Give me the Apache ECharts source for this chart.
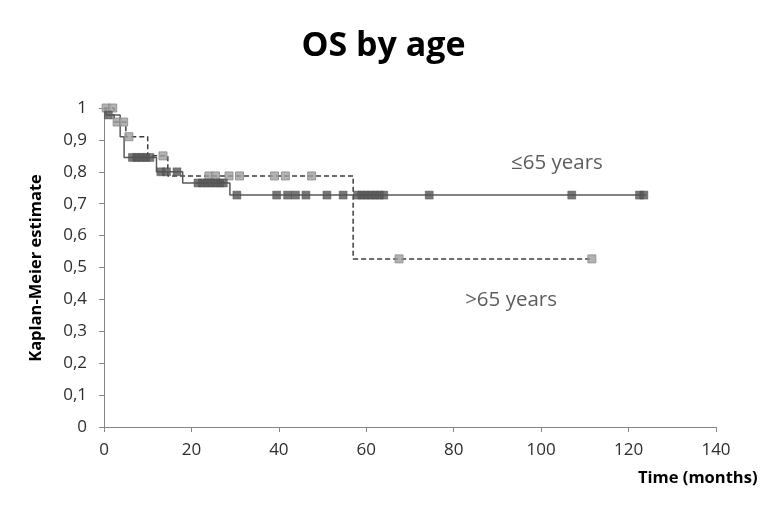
<!DOCTYPE html>
<html><head><meta charset="utf-8">
<script src="https://cdn.jsdelivr.net/npm/echarts@6/dist/echarts.min.js"></script>
<style>html,body{margin:0;padding:0;background:#fff}#c{width:767px;height:506px}</style>
</head><body><div id="c"></div>
<script>
// KM step points: [time, survival after the step]
const youngCurve = [[0,1],[0.5,0.978],[3.7,0.91],[4.6,0.845],[12,0.80],[18,0.765],[28.8,0.727],[124,0.727]];
const oldCurve = [[0,1],[2.3,0.956],[5,0.91],[10,0.85],[14.6,0.787],[57,0.527],[111.6,0.527]];
// censored observations
const youngCensor = [[1,0.978],[6.5,0.845],[7.5,0.845],[8.5,0.845],[9.5,0.845],[10.5,0.845],
  [13,0.80],[14.3,0.80],[16.7,0.80],
  [21.5,0.765],[22.5,0.765],[23.5,0.765],[24.5,0.765],[25.5,0.765],[26.5,0.765],[27.3,0.765],
  [30.4,0.727],[39.5,0.727],[42,0.727],[43.8,0.727],[46.2,0.727],[51,0.727],[54.7,0.727],
  [58,0.727],[59,0.727],[60,0.727],[61,0.727],[62,0.727],[63,0.727],[64,0.727],
  [74.4,0.727],[107,0.727],[122.5,0.727],[123.5,0.727]];
const oldCensor = [[0.5,1],[2,1],[3,0.956],[4.5,0.956],[5.7,0.91],[13.5,0.85],
  [24,0.787],[25.5,0.787],[28.6,0.787],[31,0.787],[39,0.787],[41.5,0.787],[47.5,0.787],
  [67.5,0.527],[111.6,0.527]];
const xTicks = [0,20,40,60,80,100,120,140];
const yTicks = [0,0.1,0.2,0.3,0.4,0.5,0.6,0.7,0.8,0.9,1];
const labels = {young:'≤65 years', old:'>65 years'};
const labelPos = {young:[93,0.827], old:[82.5,0.397]};

const chart = echarts.init(document.getElementById('c'), null, {renderer:'canvas'});
const font = 'Open Sans, Noto Sans, sans-serif';
chart.setOption({
  animation:false,
  title:{text:'OS by age', left:'center', top:24,
    textStyle:{fontFamily:font, fontWeight:'bold', fontSize:34, color:'#000'}},
  grid:{left:104, right:51, top:108, bottom:79},
  xAxis:{type:'value', min:xTicks[0], max:xTicks[xTicks.length-1], interval:20,
    axisLine:{show:true, lineStyle:{color:'#868686', width:1}},
    axisTick:{show:true, length:5, lineStyle:{color:'#868686'}},
    axisLabel:{fontFamily:font, fontSize:17, color:'#2e2e2e', margin:15},
    splitLine:{show:false}},
  yAxis:{type:'value', min:0, max:1, interval:0.1,
    axisLine:{show:true, lineStyle:{color:'#868686', width:1}},
    axisTick:{show:true, length:5, lineStyle:{color:'#868686'}},
    axisLabel:{fontFamily:font, fontSize:17, color:'#2e2e2e', margin:17,
      formatter:v=>String(Math.round(v*10)/10).replace('.',',')},
    splitLine:{show:false}},
  graphic:[
    {type:'text', left:638, top:470, style:{text:'Time (months)', font:'bold 16.5px '+font, fill:'#000'}},
    {type:'text', x:36, y:268, rotation:Math.PI/2, style:{text:'Kaplan-Meier estimate', font:'bold 16.5px '+font, fill:'#000', textAlign:'center', textVerticalAlign:'middle'}},
  ],
  series:[
    {type:'line', step:'end', data:oldCurve, symbol:'none',
      lineStyle:{color:'#3c3c3c', width:1.5, type:[5,3]}, z:2},
    {type:'line', step:'end', data:youngCurve, symbol:'none',
      lineStyle:{color:'#595959', width:1.5}, z:3},
    {type:'scatter', data:oldCensor, symbol:'rect', symbolSize:[8,8],
      itemStyle:{color:'#a0a0a0', borderColor:'#888', borderWidth:1}, z:4},
    {type:'scatter', data:youngCensor, symbol:'rect', symbolSize:[8,8],
      itemStyle:{color:'#555', borderColor:'#4a4a4a', borderWidth:0.5}, z:5},
    {type:'scatter', data:[labelPos.young], symbol:'circle', symbolSize:1, silent:true,
      itemStyle:{color:'rgba(0,0,0,0)'},
      label:{show:true, formatter:labels.young, position:'right', distance:0, fontFamily:font, fontSize:20.5, color:'#333'}, z:6},
    {type:'scatter', data:[labelPos.old], symbol:'circle', symbolSize:1, silent:true,
      itemStyle:{color:'rgba(0,0,0,0)'},
      label:{show:true, formatter:labels.old, position:'right', distance:0, fontFamily:font, fontSize:20.5, color:'#333'}, z:6}
  ]
});
</script></body></html>
